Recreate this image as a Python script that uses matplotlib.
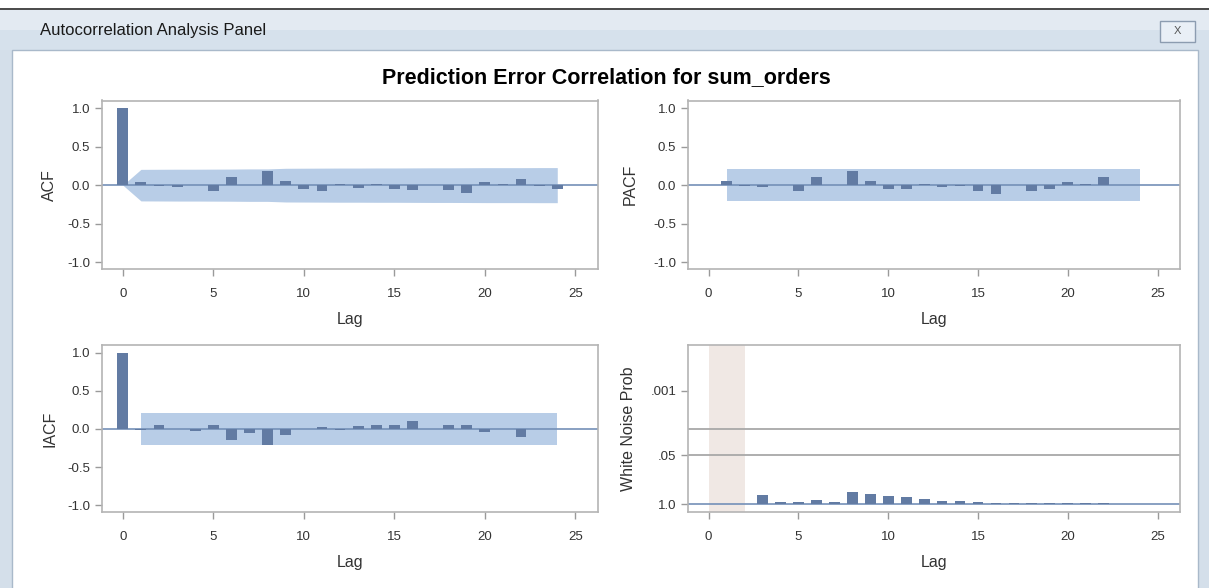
import matplotlib.pyplot as plt
from matplotlib.patches import Rectangle

W, H = 1209, 588

# Lags and correlation values
acf_lags = list(range(0, 25))
acf_vals = [1.0, 0.045, -0.01, -0.03, 0.0, -0.07, 0.105, 0.0, 0.19, 0.06, -0.045, -0.08,
            0.02, -0.04, 0.015, -0.05, -0.065, 0.0, -0.065, -0.1, 0.04, 0.01, 0.08, -0.01, -0.05]
acf_band = [0.0, 0.205, 0.206, 0.207, 0.207, 0.208, 0.209, 0.211, 0.211, 0.219, 0.22, 0.221,
            0.222, 0.222, 0.223, 0.223, 0.224, 0.225, 0.225, 0.226, 0.227, 0.227, 0.227, 0.228, 0.228]

pacf_lags = list(range(1, 25))
pacf_vals = [0.05, -0.01, -0.025, 0.0, -0.075, 0.11, 0.0, 0.19, 0.05, -0.05, -0.045, 0.01,
             -0.02, -0.005, -0.08, -0.11, 0.0, -0.075, -0.055, 0.035, 0.01, 0.11, 0.0, 0.0]
pacf_band = 0.21

iacf_lags = list(range(0, 25))
iacf_vals = [1.0, -0.01, 0.057, 0.0, -0.03, 0.057, -0.14, -0.048, -0.205, -0.08, 0.0, 0.026,
             -0.02, 0.04, 0.057, 0.057, 0.105, -0.005, 0.057, 0.045, -0.045, 0.0, -0.1, 0.0, 0.0]
iacf_band = 0.205

# white noise test: -log10(p) per lag
wn_lags = list(range(3, 25))
wn_vals = [0.24, 0.07, 0.07, 0.11, 0.055, 0.34, 0.28, 0.21, 0.19, 0.14, 0.1, 0.08, 0.065,
           0.05, 0.04, 0.035, 0.035, 0.03, 0.025, 0.025, 0.02, 0.02]
wn_ticks = [0, 1.301, 3]
wn_ticklabels = ['1.0', '.05', '.001']
wn_reflines = [1.301, 2.0]

corr_ticks = [-1.0, -0.5, 0.0, 0.5, 1.0]
corr_ticklabels = ['-1.0', '-0.5', '0.0', '0.5', '1.0']
x_ticks = [0, 5, 10, 15, 20, 25]

BAR = '#627ba3'
BAND = '#b8cde7'
ZERO = '#7490b8'
FRAME = '#b4b4b4'

plt.rcParams['font.family'] = ['Liberation Sans', 'DejaVu Sans']

fig = plt.figure(figsize=(W / 100, H / 100), dpi=100)


def px_rect(x0, y0, x1, y1, **kw):
    r = Rectangle((x0 / W, 1 - y1 / H), (x1 - x0) / W, (y1 - y0) / H,
                  transform=fig.transFigure, zorder=-10, **kw)
    fig.add_artist(r)


# window chrome
px_rect(0, 8, W, H, facecolor='#d4dfea', edgecolor='none')
px_rect(0, 8, W, 10, facecolor='#4d4d4d', edgecolor='none')
px_rect(0, 10, W, 30, facecolor='#e3eaf2', edgecolor='none')
px_rect(0, 30, W, 50, facecolor='#d6e1ec', edgecolor='none')
px_rect(12, 50, 1198, H + 2, facecolor='white', edgecolor='#a9b9ca', linewidth=1)
px_rect(1160, 21, 1195, 42, facecolor='#e9eff6', edgecolor='#8c9cb0', linewidth=1)
fig.text(1177.5 / W, 1 - 31.5 / H, 'X', ha='center', va='center', fontsize=8, color='#555555')
fig.text(40 / W, 1 - 30 / H, 'Autocorrelation Analysis Panel', ha='left', va='center',
         fontsize=12, color='#1a1a1a')
fig.text(606 / W, 1 - 78 / H, 'Prediction Error Correlation for sum_orders', ha='center',
         va='center', fontsize=15.5, fontweight='bold', color='black')


def add_axes(x0, y0, x1, y1):
    return fig.add_axes([x0 / W, 1 - y1 / H, (x1 - x0) / W, (y1 - y0) / H])


def style(ax, ylabel, label_x):
    for s in ax.spines.values():
        s.set_color(FRAME)
        s.set_linewidth(1.2)
    ax.tick_params(colors='#9a9a9a', labelcolor='#333333', labelsize=9.5, length=5, width=1)
    ax.tick_params(axis='x', pad=9)
    ax.set_xlim(-1.15, 26.25)
    ax.set_xticks(x_ticks)
    ax.set_xlabel('Lag', fontsize=11.5, color='#333333', labelpad=8)
    ax.set_ylabel(ylabel, fontsize=11.5, color='#333333')
    ax.yaxis.set_label_coords(label_x, 0.5)


def corr_panel(ax, lags, vals, band_x, band_lo, band_hi, ylabel, label_x):
    ax.fill_between(band_x, band_lo, band_hi, color=BAND, linewidth=0, zorder=1)
    ax.axhline(0, color=ZERO, linewidth=1.2, zorder=2)
    ax.bar(lags, vals, width=0.6, color=BAR, zorder=3)
    ax.set_ylim(-1.09, 1.1)
    ax.set_yticks(corr_ticks)
    ax.set_yticklabels(corr_ticklabels)
    style(ax, ylabel, label_x)


ax1 = add_axes(102, 100.5, 598, 269)
corr_panel(ax1, acf_lags, acf_vals, acf_lags,
           [-b for b in acf_band], acf_band, 'ACF', -0.09)

ax2 = add_axes(688, 100.5, 1180, 269)
corr_panel(ax2, pacf_lags, pacf_vals, [pacf_lags[0], pacf_lags[-1]],
           [-pacf_band] * 2, [pacf_band] * 2, 'PACF', -0.102)

ax3 = add_axes(102, 345, 598, 512)
corr_panel(ax3, iacf_lags, iacf_vals, [1, 24],
           [-iacf_band] * 2, [iacf_band] * 2, 'IACF', -0.09)

ax4 = add_axes(688, 345, 1180, 512)
ax4.axvspan(0, 2, color='#f0e8e4', linewidth=0, zorder=0)
for y in wn_reflines:
    ax4.axhline(y, color='#a8a8a8', linewidth=1.3, zorder=1)
ax4.axhline(0, color=ZERO, linewidth=1.2, zorder=2)
ax4.bar(wn_lags, wn_vals, width=0.6, color=BAR, zorder=3)
ax4.set_ylim(-0.2, 4.2)
ax4.set_yticks(wn_ticks)
ax4.set_yticklabels(wn_ticklabels)
style(ax4, 'White Noise Prob', -0.106)

fig.savefig('out.png', dpi=100)
